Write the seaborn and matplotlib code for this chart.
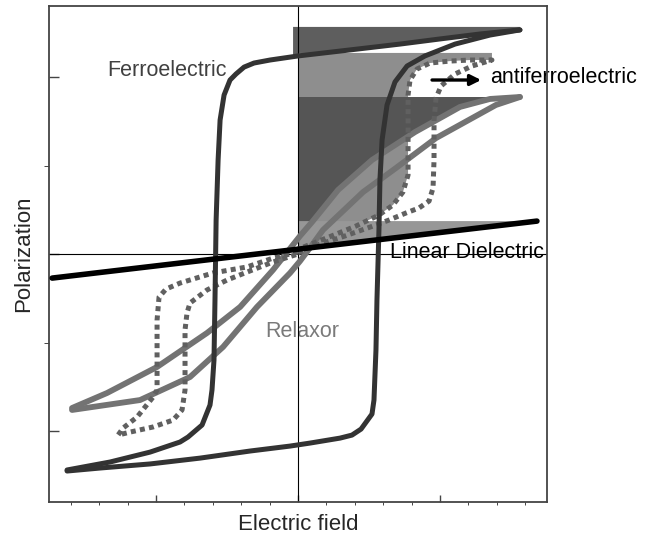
import numpy as np
import matplotlib
matplotlib.use("Agg")
import matplotlib.pyplot as plt
import seaborn as sns

# ---- Ferroelectric hysteresis loop ----
# branch traced while the field is lowered from +Emax to -Emax
fe_down_E = [1.563, 1.282, 1.000, 0.718, 0.366, 0.000, -0.197, -0.310, -0.380, -0.437,
             -0.479, -0.521, -0.549, -0.563, -0.577, -0.585, -0.592, -0.606, -0.620,
             -0.676, -0.775, -0.831, -1.042, -1.324, -1.627]
fe_down_P = [1.266, 1.243, 1.215, 1.186, 1.153, 1.119, 1.096, 1.079, 1.056, 1.017,
             0.983, 0.898, 0.757, 0.531, 0.192, -0.260, -0.599, -0.768, -0.853,
             -0.966, -1.034, -1.062, -1.119, -1.175, -1.220]
# branch traced while the field is raised from -Emax to +Emax
fe_up_E = [-1.627, -1.394, -1.042, -0.690, -0.338, -0.056, 0.085, 0.296, 0.380, 0.444,
           0.521, 0.535, 0.549, 0.556, 0.570, 0.577, 0.592, 0.627, 0.683, 0.768, 0.894,
           1.106, 1.352, 1.563]
fe_up_P = [-1.226, -1.209, -1.186, -1.153, -1.113, -1.085, -1.068, -1.040, -1.023, -0.989,
           -0.904, -0.825, -0.542, -0.260, 0.136, 0.418, 0.644, 0.842, 0.972, 1.062, 1.119,
           1.186, 1.237, 1.266]

# ---- Antiferroelectric double loop ----
afe_pos_up_E = [0.000, 0.155, 0.331, 0.528, 0.641, 0.761, 0.852, 0.923, 0.951, 0.958,
                0.958, 0.972, 1.007, 1.106, 1.225, 1.366]
afe_pos_up_P = [0.006, 0.056, 0.102, 0.158, 0.192, 0.232, 0.260, 0.299, 0.373, 0.531,
                0.757, 0.881, 0.949, 1.017, 1.062, 1.096]
afe_pos_down_E = [1.366, 1.211, 1.070, 0.930, 0.838, 0.789, 0.775, 0.775, 0.775, 0.739,
                  0.669, 0.570, 0.408, 0.218, 0.056, 0.000]
afe_pos_down_P = [1.096, 1.096, 1.090, 1.079, 1.045, 0.983, 0.898, 0.644, 0.446, 0.350,
                  0.277, 0.220, 0.158, 0.096, 0.045, 0.028]
afe_neg_down_E = [0.000, -0.176, -0.359, -0.599, -0.831, -0.930, -0.979, -0.993, -0.993,
                  -1.021, -1.134, -1.232, -1.268]
afe_neg_down_P = [0.011, -0.023, -0.073, -0.107, -0.164, -0.198, -0.243, -0.373, -0.768,
                  -0.808, -0.921, -0.983, -1.023]
afe_neg_up_E = [-1.268, -1.183, -1.021, -0.880, -0.817, -0.796, -0.796, -0.782, -0.761,
                -0.641, -0.500, -0.359, -0.176, 0.000]
afe_neg_up_P = [-1.023, -1.006, -0.977, -0.938, -0.881, -0.768, -0.429, -0.333, -0.277,
                -0.203, -0.147, -0.102, -0.045, 0.000]

# ---- Relaxor slim loop ----
rel_down_E = [1.563, 1.352, 1.141, 0.824, 0.521, 0.282, 0.099, 0.014, -0.176, -0.408,
              -0.641, -0.993, -1.345, -1.592]
rel_down_P = [0.887, 0.876, 0.831, 0.689, 0.531, 0.362, 0.181, 0.102, -0.090, -0.299,
              -0.446, -0.638, -0.785, -0.870]
rel_up_E = [-1.592, -1.113, -0.761, -0.528, -0.289, -0.056, 0.014, 0.099, 0.176, 0.458,
            0.690, 0.972, 1.394, 1.563]
rel_up_P = [-0.881, -0.825, -0.695, -0.525, -0.299, -0.107, -0.040, 0.051, 0.136, 0.350,
            0.486, 0.655, 0.842, 0.887]

# ---- Linear dielectric ----
lin_E = [-1.732, 1.683]
lin_P = [-0.136, 0.186]

x_label = "Electric field"
y_label = "Polarization"

sns.set_style("ticks")
plt.rcParams["font.family"] = ["Liberation Sans", "DejaVu Sans"]

fig = plt.figure(figsize=(6.52, 5.38), dpi=100)
ax = fig.add_axes([0.0752, 0.0669, 0.7638, 0.9219])


def discharge_region(E, P, pad=0.0, left=0.0):
    """Polygon between the P axis and the positive-field part of a discharge branch."""
    E = np.asarray(E)
    P = np.asarray(P)
    keep = E >= 0
    top = P[keep][0] + pad
    xs = np.concatenate([[left, E[keep][0]], E[keep], [left]])
    ys = np.concatenate([[top, top], P[keep], [P[keep][-1]]])
    return xs, ys


# shaded recoverable-energy areas
for E, P, col, pad, left in [(fe_down_E, fe_down_P, "#5e5e5e", 0.017, -0.035),
                             (afe_pos_down_E, afe_pos_down_P, "#8e8e8e", 0.04, 0.0),
                             (rel_down_E, rel_down_P, "#555555", 0.0, 0.0)]:
    xs, ys = discharge_region(E, P, pad, left)
    ax.fill(xs, ys, color=col, lw=0, zorder=1)

p0_lin = np.interp(0.0, lin_E, lin_P)
ax.fill([0.0, lin_E[1], 0.0], [lin_P[1], lin_P[1], p0_lin], color="#979797", lw=0, zorder=1.1)

# reference axes through the origin
ax.axhline(0, color="black", lw=0.8, zorder=2)
ax.axvline(0, color="black", lw=0.8, zorder=2)

# relaxor
for E, P in [(rel_down_E, rel_down_P), (rel_up_E, rel_up_P)]:
    sns.lineplot(x=E, y=P, sort=False, estimator=None, color="#737373", lw=4.2,
                 solid_capstyle="round", solid_joinstyle="round", ax=ax, zorder=3)

# antiferroelectric (dotted)
afe_loops = [
    (afe_pos_up_E + afe_pos_down_E[1:], afe_pos_up_P + afe_pos_down_P[1:]),
    (afe_neg_down_E + afe_neg_up_E[1:], afe_neg_down_P + afe_neg_up_P[1:]),
]
for E, P in afe_loops:
    sns.lineplot(x=E, y=P, sort=False, estimator=None, color="#606060", lw=3.6,
                 linestyle=(0, (1, 0.85)), dash_capstyle="butt", ax=ax, zorder=3.2)

# ferroelectric
for E, P in [(fe_down_E, fe_down_P), (fe_up_E, fe_up_P)]:
    sns.lineplot(x=E, y=P, sort=False, estimator=None, color="#333333", lw=3.6,
                 solid_capstyle="round", solid_joinstyle="round", ax=ax, zorder=3.4)

# linear dielectric
sns.lineplot(x=lin_E, y=lin_P, sort=False, estimator=None, color="black", lw=4.0,
             ax=ax, zorder=3.6)

# curve names
fs = 15.5
ax.text(-1.345, 1.034, "Ferroelectric", color="#404040", fontsize=fs, va="center",
        ha="left", zorder=0.5)
ax.text(-0.232, -0.435, "Relaxor", color="#7a7a7a", fontsize=fs, va="center",
        ha="left", zorder=0.5)
ax.text(0.648, 0.006, "Linear Dielectric", color="black", fontsize=fs, va="center",
        ha="left", zorder=0.5, clip_on=False)
ax.text(1.352, 1.0, "antiferroelectric", color="black", fontsize=fs, va="center",
        ha="left", zorder=0.5, clip_on=False)
ax.annotate("", xy=(1.29, 0.983), xytext=(0.944, 0.983),
            arrowprops=dict(arrowstyle="-|>", color="black", lw=2.4, mutation_scale=16,
                            shrinkA=0, shrinkB=0), zorder=4)

ax.set_xlim(-1.754, 1.754)
ax.set_ylim(-1.401, 1.401)
ax.set_xticks([-1, 0, 1])
ax.set_xticks(np.round(np.arange(-1.6, 1.61, 0.2), 2), minor=True)
ax.set_yticks([-1, 0, 1])
ax.set_yticks([-0.5, 0.5], minor=True)
ax.tick_params(direction="in", labelbottom=False, labelleft=False, color="#444444",
               width=1.0)
ax.tick_params(axis="x", which="major", length=5)
ax.tick_params(axis="x", which="minor", length=2.2)
ax.tick_params(axis="y", which="major", length=7)
ax.tick_params(axis="y", which="minor", length=3.5)
for s in ax.spines.values():
    s.set_color("#444444")
    s.set_linewidth(1.3)
    s.set_zorder(2.5)

ax.set_xlabel(x_label, fontsize=16, labelpad=3)
ax.set_ylabel(y_label, fontsize=16, labelpad=4)

fig.savefig("out.png", dpi=100)
